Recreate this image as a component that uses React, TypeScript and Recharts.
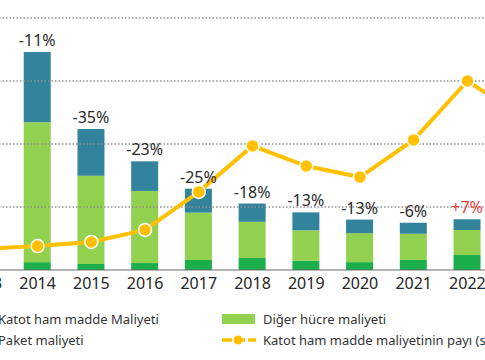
import React from "react";
import { ComposedChart, Bar, Line, XAxis, YAxis, LabelList, ReferenceLine } from "recharts";

// values in $/kWh (left) and share % (right, hidden axis)
const years = ["2013", "2014", "2015", "2016", "2017", "2018", "2019", "2020", "2021", "2022", "2023"];
const katotCost = [25, 25, 19, 22, 32, 38, 29, 25, 32, 48, 35];
const digerCost = [500, 444, 280, 229, 150, 115, 97, 92, 83, 79, 72];
const paketCost = [255, 223, 149, 94, 76, 58, 57, 43, 35, 34, 32];
const changeLabels = ["", "-11%", "-35%", "-23%", "-25%", "-18%", "-13%", "-13%", "-6%", "+7%", "-14%"];
const katotShare = [6.7, 7.6, 8.9, 12.7, 24.8, 39.4, 33.0, 29.5, 41.3, 60.0, 48.9];
const gridTicks = [200, 400, 600, 800];

const C_KATOT = "#1aaf4b";
const C_DIGER = "#92d050";
const C_PAKET = "#31849b";
const C_LINE = "#ffc000";
const FONT = "'Noto Sans', sans-serif";

const data = years.map((y, i) => ({
  year: y,
  katot: katotCost[i],
  diger: digerCost[i],
  paket: paketCost[i],
  change: changeLabels[i],
  share: katotShare[i],
}));

const ChangeLabel = (props: any) => {
  const { x, y, width, value } = props;
  if (!value) return null;
  const red = String(value).startsWith("+");
  return (
    <text x={Number(x) + Number(width) / 2} y={Number(y) - 6} textAnchor="middle" fontSize={16} fontFamily={FONT} fill={red ? "#e8413a" : "#2b2b2b"}>
      {value}
    </text>
  );
};

function LegendItem({ kind, color, text }: { kind: "box" | "line"; color: string; text: string }) {
  return (
    <div style={{ display: "flex", alignItems: "center", height: 21, whiteSpace: "nowrap" }}>
      <svg width={34} height={12} style={{ marginRight: 7, flex: "none" }}>
        {kind === "box" ? (
          <rect x={0} y={1} width={33} height={10} fill={color} />
        ) : (
          <g>
            <line x1={0} y1={6} x2={34} y2={6} stroke={color} strokeWidth={3.5} strokeDasharray="10 3" />
            <circle cx={16} cy={6} r={4.5} fill={color} />
          </g>
        )}
      </svg>
      <span style={{ fontSize: 13, color: "#333", fontFamily: FONT }}>{text}</span>
    </div>
  );
}

export default function App() {
  return (
    <div style={{ position: "fixed", left: 0, top: 0, width: 485, height: 360, overflow: "hidden", background: "#fff" }}>
      <div style={{ position: "absolute", left: -43, top: 0 }}>
        <ComposedChart width={591} height={300} data={data} margin={{ top: 18, right: 0, left: 0, bottom: 0 }}>
          <XAxis
            dataKey="year"
            tickLine={false}
            axisLine={{ stroke: "#6b6b6b", strokeWidth: 1.2 }}
            tick={{ fill: "#262626", fontSize: 16, fontFamily: FONT }}
            interval={0}
          />
          <YAxis yAxisId="left" width={0} domain={[0, 800]} ticks={[0, ...gridTicks]} tick={false} axisLine={false} tickLine={false} />
          <YAxis yAxisId="right" orientation="right" width={0} domain={[0, 80]} tick={false} axisLine={false} tickLine={false} />
          {gridTicks.map((v) => (
            <ReferenceLine key={v} yAxisId="left" y={v} stroke="#8f8f8f" strokeWidth={1.4} strokeDasharray="1.5 2" />
          ))}
          <Bar yAxisId="left" dataKey="katot" stackId="a" fill={C_KATOT} barSize={27} isAnimationActive={false} />
          <Bar yAxisId="left" dataKey="diger" stackId="a" fill={C_DIGER} barSize={27} isAnimationActive={false} />
          <Bar yAxisId="left" dataKey="paket" stackId="a" fill={C_PAKET} barSize={27} isAnimationActive={false}>
            <LabelList dataKey="change" content={ChangeLabel} />
          </Bar>
          <Line
            yAxisId="right"
            type="linear"
            dataKey="share"
            stroke={C_LINE}
            strokeWidth={4}
            dot={{ r: 6.5, fill: C_LINE, stroke: "#fff", strokeWidth: 1.5 }}
            isAnimationActive={false}
          />
        </ComposedChart>
      </div>
      <div style={{ position: "absolute", top: 308, left: -43, display: "flex" }}>
        <div style={{ width: 265 }}>
          <LegendItem kind="box" color={C_KATOT} text="Katot ham madde Maliyeti" />
          <LegendItem kind="box" color={C_PAKET} text="Paket maliyeti" />
        </div>
        <div>
          <LegendItem kind="box" color={C_DIGER} text="Diğer hücre maliyeti" />
          <LegendItem kind="line" color={C_LINE} text="Katot ham madde maliyetinin payı (sağ eksen)" />
        </div>
      </div>
    </div>
  );
}
